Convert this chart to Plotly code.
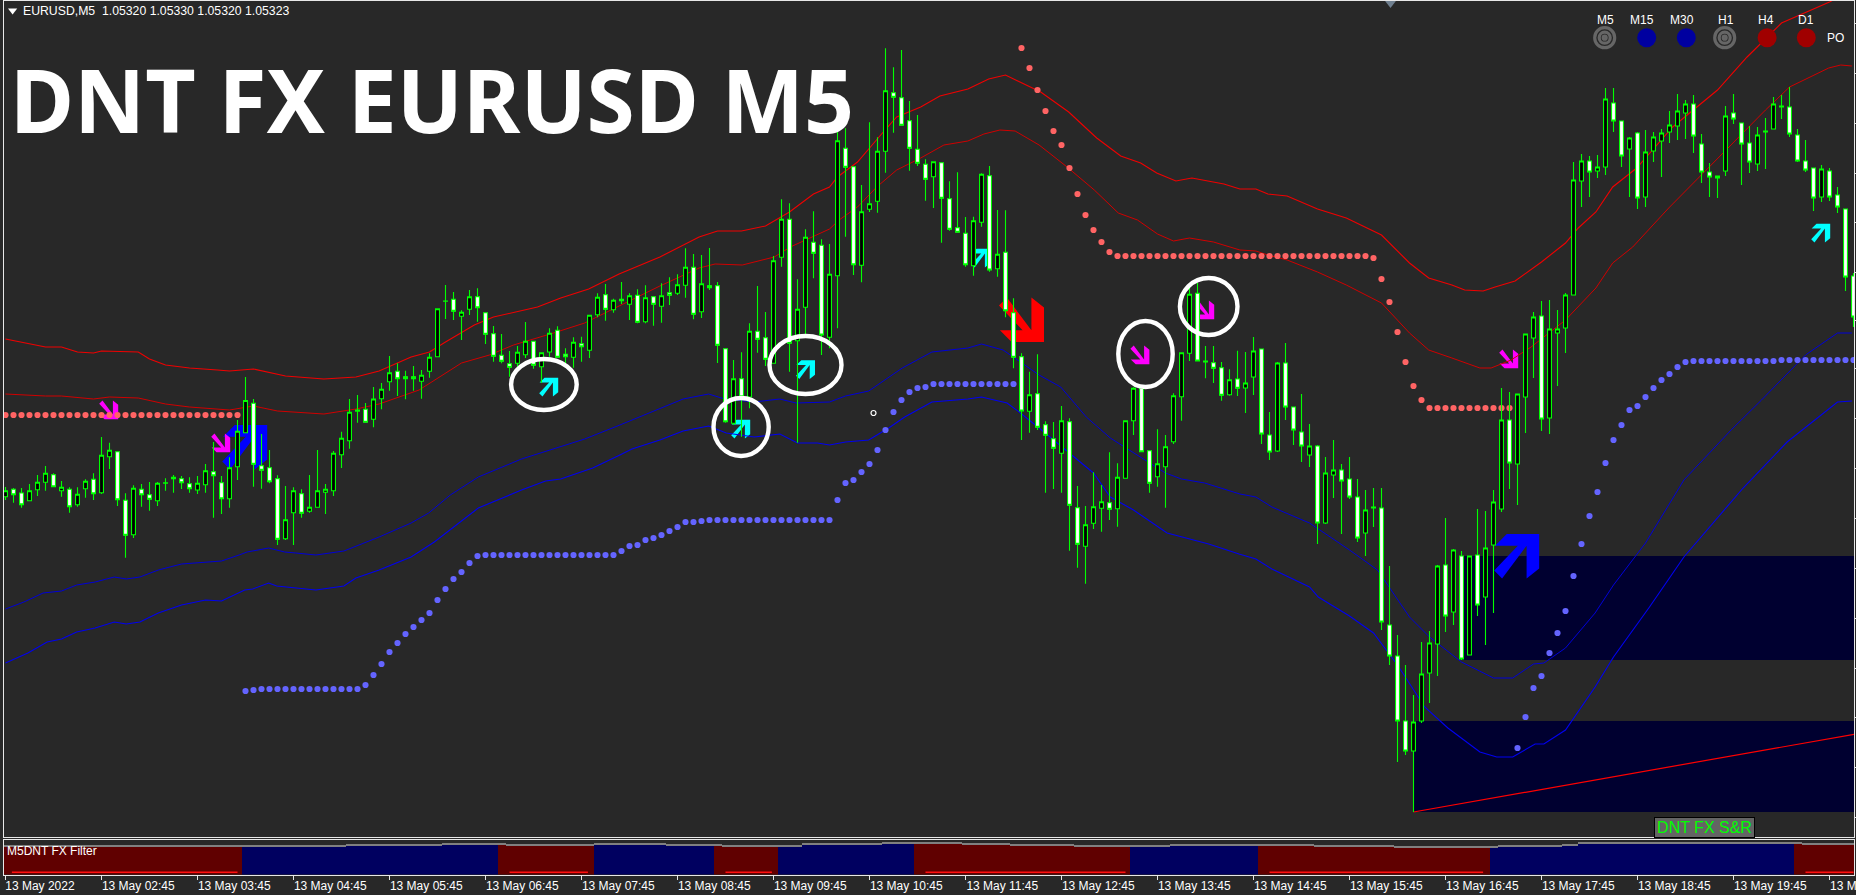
import plotly.graph_objects as go

W, H = 1856, 895
PLOT_L, PLOT_R = 4, 1854
MAIN_T, MAIN_B = 1, 837
SUB_T, SUB_B = 840, 874.5
BAR0_PX, BAR_PX = 5.5, 8.0
BG = "#282828"
P0, TICK = 1.0600, 0.00002   # chart points -> price

# Candles: levels in chart points counted down from the top of the window
body_top = [
 490.7,489.3,493,490.7,482.3,473.3,474.7,487.3,489.3,494.3,
 481.3,479.3,455.3,450.3,451.7,500.3,488.3,489.3,494.7,483.3,
 482.7,477.3,478.7,483.7,483.3,470.7,471.7,482.7,467.7,431.3,
 400.5,403.3,465.7,467.7,478.7,519.7,490.7,493.7,507.3,490.7,
 489.3,453.3,438.3,412.3,410,409.3,399,389.3,372.7,371.3,
 376.7,376.7,375.3,357.3,308.7,301,299.3,312.3,296.7,296.7,
 312.7,333.7,355.3,363.7,352.3,341.3,341.3,352.7,333.3,330.3,
 354.3,342.3,343.7,315.3,297.3,294.7,300.3,299.3,295.7,295.3,
 297.7,296.7,295.7,292.7,284.7,267.3,267.3,283.7,285.7,285.7,
 348.7,378.7,378.7,331.3,331.3,337.7,260.7,219.3,219.3,309.3,
 237.3,242.3,245.3,274.3,140.7,148.3,166.7,211.7,203.7,151.3,
 90.7,92.7,97.7,120.7,149.3,164.3,161.7,162.7,198.7,227.7,
 233.3,220.7,174.3,175.7,254.3,252.3,312.7,356.7,394.7,393.7,
 424.7,438.7,420.7,421.7,507.7,524.7,506.7,501.7,502.7,477.3,
 420.7,388.3,388.3,450.7,463.7,446.7,395.7,352.7,294.3,293.3,
 361,362.7,367.7,379.7,379,383,351,349,435,363,
 363,407,432,446,446,473,470,470,479,497,
 510,507,508,625,656,721,722,674,643,566,
 565,550,556,556,555,548,502,420,420,394,
 334,317,316,329,329,295,180,161,161,167,
 99,103,121,138,133,152,137,133,125,111,
 104,104,144,172,176,116,113,123,143,135,
 131,104,106,107,135,161,168,169,171,195,209,276]
body_bot = [
 496.7,494.7,504.7,500.7,489.7,482.3,486.7,490.7,506.7,504.7,
 488.7,493.7,492.7,456.7,499.7,535.3,534.7,494.7,499.3,500.7,
 483.3,478.7,482.7,488.7,490,484.7,475.7,498.7,498.7,466.7,
 432.7,464.3,470.3,481.7,539.3,538.7,512.7,513.3,511.3,507.3,
 492.3,490.7,454.7,440.7,411.3,422.3,419.3,398.7,381.7,378.7,
 378.7,378.7,381.3,371.3,356.7,301.3,311.3,316.3,309.3,307.7,
 334.3,356.3,361.3,367.3,363.3,354.7,365.3,366.7,352,357.3,
 356.7,357.3,346.7,350.3,314.7,309.3,309.7,300.7,304.3,322.3,
 321.7,304.3,306.3,295.3,293.3,285.3,314.3,311.7,287.7,345.3,
 421.7,423.3,396.7,397,339.3,359.3,363.3,257.3,343.3,340.7,
 307.3,253.3,335,337.3,275.7,167.3,264.7,265.3,209.3,201.3,
 151.3,97.3,125.3,148.3,163.3,179.3,176.7,198.3,229.3,232.3,
 264.7,265.7,222.3,270,268.7,310.7,357.3,411,411.3,427.3,
 435.3,448.3,453.3,505.3,544.3,546.3,523.3,508.3,509.3,508.7,
 478.3,420.7,451.7,483.3,476.7,466.7,441.7,396.7,353.3,361,
 362,368.3,395.3,394.7,388.3,388,377,434,452,451,
 407,430,446,455,523,523,475,481,497,538,
 533,508,622,656,721,751,751,721,673,644,
 616,612,659,655,605,597,545,509,463,464,
 397,338,419,418,333,328,295,181,172,171,
 167,121,156,149,198,197,151,141,132,126,
 113,136,172,177,178,171,119,144,162,164,
 132,129,107,134,161,170,198,197,197,207,277,317]
wick_top = [
 487,488,488,484,475,466,473.3,481,487.3,487.3,
 479.3,473.3,437,442.7,451.3,493.3,485.3,484,482,482,
 478.3,475,476,477.3,476,464,442,476,457.3,420,
 377,399,434,450,475.3,486,487.3,489.3,475,450,
 484,451,431.7,399,395,403,387,383,356,363.3,
 370.7,366,370,353.3,308.7,285,292,310.3,290,288.3,
 312.7,326,334,351,346,322,341.3,352.7,328.3,326.3,
 348.3,337.3,336.7,315.3,293.3,284,298.7,282,293.3,289.3,
 285.3,296,283.3,277.3,274.3,248.3,254,255,248,282,
 348.3,360,352.3,323.3,286,312,256,199.3,203.3,279.3,
 229.3,211.3,239.3,244,130,128.3,166.7,185,122.3,137.3,
 48.3,67.3,50,101,115,159.3,161.7,162.7,181.3,172.3,
 217,216.7,173.3,166,210,210.3,298.3,353.3,371.7,354.3,
 421.3,422,406,418.3,486,506,472.3,485,452.3,463.3,
 420.7,387.3,388.3,450.7,429.3,435,393.3,352.7,286,283,
 346,346,362,369.3,350.7,352,337,349,412,362,
 343,407,394,424,445,457,440,464,457,479,
 490,488,488,566,635,665,695,642,631,565,
 518,549,551,556,509,511,490,388,392,394,
 334,312,301,300,310,293,162,154,156,155,
 88,88,121,137,132,130,132,129,111,94,
 100,95,134,163,176,106,94,123,126,127,
 118,97,95,87,129,140,168,165,168,187,209,273]
wick_bot = [
 500,502.7,507.7,500.7,496,490.7,486.7,496.7,512.7,506.7,
 497.7,500,494,469,506,557.7,538,506.7,510.7,506,
 490.7,492.7,489,492.7,494,492.7,517.7,514,507.7,480,
 433,486.7,488.7,483.3,545,540,545,517.7,512.7,507.3,
 514,496,468,448.7,422.7,422.7,427.3,409.3,390.7,396,
 399.3,390.7,398.7,377.7,356.7,319,320,340,315,321.7,
 344,361.7,363.3,376.7,366.7,358,368.7,382.7,356.7,357.3,
 366.7,367.7,361.7,358,317.3,320.7,312.7,304,320,323.3,
 323.3,325.7,322.7,305,295,297.7,319.3,318,290,363,
 422.7,425,436.7,408.3,352.7,366,363.3,266.7,371.7,442.7,
 335,278.3,355,348.3,328.3,236.7,275,282.3,212,212.7,
 172.7,132.7,125.3,170.7,166,200.7,208,242.7,230.7,232.3,
 266.7,275.7,226.7,271.7,276.7,317.3,368.3,440,432.7,430,
 492.7,489,492.7,550.7,567.7,583.7,529,531.7,520,526.7,
 478.3,435,451.7,492.7,486.7,507.7,444,420.7,361,361,
 378.3,383,400.7,395.7,396,413,395,444,460,452,
 420,445,462,467,544,524,498,534,499,542,
 556,527,630,665,762,755,812,723,703,676,
 632,625,660,655,616,645,613,512,489,505,
 433,378,431,434,386,353,295,207,197,178,
 175,132,167,197,209,207,162,177,143,140,
 139,153,183,197,198,176,124,185,173,171,
 169,129,119,137,162,172,211,202,201,213,291,327]
white_bars = [1,2,6,8,11,14,15,17,18,21,22,23,26,27,31,32,33,34,37,45,49,50,51,56,59,60,61,62,63,66,69,
 70,72,75,77,79,81,83,86,88,89,90,92,94,95,98,101,102,105,106,111,112,113,114,115,117,118,119,120,123,
 125,126,127,129,130,131,133,134,138,142,143,149,151,152,154,157,158,160,161,162,164,167,168,169,172,
 173,174,175,180,182,184,188,192,198,201,202,204,211,212,213,216,217,218,220,222,223,224,225,226,228,
 229,230,231]

# Envelope lines: bar position and level
red_outer_bar = [0,5,7,9,11,12,16.6,18,20,23,26.5,28,31,35,39.8,43.8,46.7,50.7,53,55,58.6,61,66.5,69.4,72.9,76.7,
 81.8,86.7,89,92,95,98,101,103,104,106.5,109.4,111.4,114.4,116.8,120.3,122.9,125,129.4,132.9,136.4,139.4,141.9,143.9,146.3,148.3,152.3,154.3,
 156.3,157.8,160.2,164,167.6,172,175.5,177.9,180.8,182.4,184.7,186.2,188.7,192,195,196.6,198.8,200.9,203.9,208.4,214,217.7,222,228,231.3]
red_outer_lvl = [339,347,347,352,353,351,352,359,365,368,370,371,369,376,379,377,371,357,352,342,325,317,307,298,289,274,
 257,237,231,231,226,212,194,187,177,162,135,117,107,96,89,79,75,92,112,138,156,163,173,181,178,184,189,
 189,194,196,209,218,235,263,278,285,290,291,287,281,262,243,228,212,187,168,127,90,57,23,2,-12]
red_inner_bar = [0,5,7,11,13,16.6,20,23,28,31,34,39.8,43.8,46.7,51.7,53.6,57,60.5,63.5,68.5,72.4,76.7,
 81.8,86.7,88.7,92.1,96.1,98.1,103,104.2,106.5,108.9,111.4,114.4,117.3,120.3,122.3,124.3,126.2,129.2,132.7,136.1,139.1,141.5,144,146,148,151,154.3,
 156.3,157.8,160.2,164,167.6,172,175.5,177.9,180.8,184.3,185.7,188.2,190.7,195,198.8,200.9,203.4,207.9,214.2,220,223,227.9,229.4,230.8]
red_inner_lvl = [394,396,396,399,397,398,404,407,410,406,411,414,409,404,390,380,363,355,345,333,323,306,
 286,268,264,265,257,247,229,220,207,187,170,158,145,141,134,130,131,145,167,190,213,220,234,241,238,242,250,
 251,255,260,272,285,303,333,350,358,368,368,360,347,320,288,263,247,208,157,110,87,68,65,66]
blue_upper_bar = [0,2.3,4.7,7,8.9,11.2,13.6,15.1,16.8,19.1,22,27,29.2,30.2,32.9,34.9,36.3,38.8,42.3,46.7,50.7,52.9,55.6,59.1,64.5,68.4,72.4,76.8,
 79.8,84.7,87.9,89.9,93.6,96.8,98.8,101.5,103,105,107.9,112.1,115.8,120.3,122,124.7,126.7,129.2,131.9,135.1,138.1,141,145,147,149.9,154.3,
 156.3,158.3,163,168,171.5,175.5,178,182,186,188.4,191,192.3,195,198.7,201,205,209.8,215.7,219.5,225,229,230.8]
blue_upper_lvl = [609,602,593,591,585,582,577,579,577,570,564,561,555,552,548,552,553,555,551,537,523,513,495,477,459,449,439,425,
 415,399,394,399,402,399,403,402,402,396,391,368,352,348,344,350,361,375,387,417,438,453,473,479,483,494,
 497,507,523,550,570,617,637,662,678,678,664,663,648,613,585,543,480,430,400,355,333,333]
blue_lower_bar = [0,2.8,5.2,7,8.9,11.2,13.6,15.1,16.8,19.1,22,25,27,29.9,30.9,32.9,33.9,37.3,38.8,42.3,43.8,46.7,50.7,53.6,59.1,64.5,67.5,69.4,73.4,76.8,
 78.3,81.8,84.7,87.9,90.1,93.6,96.8,99,101.5,103,105,107.9,110.4,112.4,115.8,120.3,122,125.2,126.7,129.2,133.2,136,138.1,141,145.2,147,150.4,154.2,
 156.3,158.3,163,164.1,168,171,174,177.4,180.3,184.3,186.4,188.4,191.2,192.3,195,198.7,201,205.5,209.8,217.2,222.7,229,230.8]
blue_lower_lvl = [663,653,642,639,632,628,622,624,622,613,605,600,601,590,589,583,586,589,590,586,578,570,557,542,508,490,481,479,468,455,
 449,440,431,426,433,437,434,443,443,445,442,440,428,417,402,399,397,403,412,428,455,473,497,510,533,537,544,554,
 559,569,587,597,616,633,665,707,728,752,757,757,744,744,730,687,657,607,557,488,442,402,401]

# Dotted stop lines (one level per bar, first bar given by the *_start name)
red_dots_1_start = 0
red_dots_1 = [415,415,415,415,415,415,415,415,415,415,415,415,415,415,415,415,415,415,415,415,415,415,415,415,415,415,415,415,415,415]
red_dots_2_start = 127
red_dots_2 = [48,68,90,111,131,145,168,194,215,230,242,252,
 256,256,256,256,256,256,256,256,256,256,256,256,256,256,256,256,256,256,256,256,256,256,256,256,256,256,256,256,256,256,256,256,
 258,279,302,332,362,386,400,408,408,408,408,408,408,408,408,408,408,408]
blue_dots_1_start = 30
blue_dots_1 = [691,690,689,689,689,689,689,689,689,689,689,689,689,689,689,685,675,664,652,643,634,627,620,613,600,589,579,572,563,556,
 555,555,555,555,555,555,555,555,555,555,555,555,555,555,555,555,555,551,546,545,540,538,535,531,527,522,522,521,
 520,520,520,520,520,520,520,520,520,520,520,520,520,520,520,520,500,483,480,472,464,450,430,412,400,392,388,387,
 384,384,384,384,384,384,384,384,384,384,384]
blue_dots_2_start = 189
blue_dots_2 = [748,717,688,676,653,633,611,576,544,516,492,463,440,425,410,406,397,388,380,374,367,362,
 361,361,361,361,361,361,361,361,361,361,361,360,360,360,360,360,360,360,360,360,360]

# Arrows: bar, level
cyan_arrow_bar = [67.9,91.9,100,121.9,226.9]
cyan_arrow_lvl = [387,429,369.5,258,233]
magenta_arrow_bar = [12.9,26.9,141.8,149.9,187.9]
magenta_arrow_lvl = [410,443,355,310,359]
blue_arrow_bar = [29.9,188.9]
blue_arrow_lvl = [447,556]
red_arrow_bar = [127]
red_arrow_lvl = [320]

# White hand-drawn ellipses
ring_bar_0 = [63.2,88.5,95.5,139.1,146.8]
ring_bar_1 = [71.4,95.4,104.5,145.9,154]
ring_lvl_0 = [359,398,336,321,278]
ring_lvl_1 = [410,456,394,387,335]

# Support / resistance zones and trend line
zone_bar_start = [182,176]
zone_lvl_top = [556,721]
zone_lvl_bot = [660,812]
trend_bar = [176,231.3]
trend_lvl = [812,734]

# Filter sub-window
filter_run_start = [0,30,62,74,89,97,114,141,157,186,224]
filter_run_state = ["sell","buy","sell","buy","sell","buy","sell","buy","sell","buy","sell"]
filter_level_start = [0,43,55,63,74,83,90,100,110,120,126,134,146,164,174,187,195,197,225]
filter_level = [29.8,30.2,31.5,30.2,31.5,30.5,30,31.5,32.5,31.5,30.5,29.5,30.5,29.8,28.8,30,31,32.5,31.5]
filter_mark_start = [0.8,63,90,115,158,225]
filter_mark_end = [29,72.8,95.8,140,184.7,231]
N_BARS = 232

time_tick_bars = [0,12,24,36,48,60,72,84,96,108,120,132,144,156,168,180,192,204,216,228]
time_tick_labels = ["13 May 2022","13 May 02:45","13 May 03:45","13 May 04:45","13 May 05:45","13 May 06:45",
 "13 May 07:45","13 May 08:45","13 May 09:45","13 May 10:45","13 May 11:45","13 May 12:45","13 May 13:45",
 "13 May 14:45","13 May 15:45","13 May 16:45","13 May 17:45","13 May 18:45","13 May 19:45","13 M"]
price_tick_lvl = [23,73,123,173,222,272,320,368,418,468,518,568,618,668,717,767,817]

panel_labels = ["M5","M15","M30","H1","H4","D1"]
panel_label_px = [1605,1642,1682,1726,1766,1806]
panel_bar = [199.9,205.15,210.1,214.9,220.2,225.1]
panel_state = ["target","blue","blue","target","red","red"]


def price(level):
    return P0 - level * TICK


def prices(levels):
    return [price(v) for v in levels]


def bar_of_px(px):
    return (px - BAR0_PX) / BAR_PX


def xp(px):
    return px / W


def yp(py):
    return 1 - py / H


white_set = set(white_bars)
bars = list(range(N_BARS))
opens = [price(body_top[i]) if i in white_set else price(body_bot[i]) for i in bars]
closes = [price(body_bot[i]) if i in white_set else price(body_top[i]) for i in bars]

fig = go.Figure()


def line(x, y, color, width=1.0):
    fig.add_trace(go.Scatter(x=x, y=prices(y), mode="lines", hoverinfo="skip", showlegend=False,
                             line=dict(color=color, width=width)))


line(red_outer_bar, red_outer_lvl, "#f00000", 1.1)
line(red_inner_bar, red_inner_lvl, "#d00000", 1.0)
line(blue_upper_bar, blue_upper_lvl, "#0000d8", 1.0)
line(blue_lower_bar, blue_lower_lvl, "#0000f0", 1.1)
line(trend_bar, trend_lvl, "#ff0000", 1.2)


def dots(start, levels, color):
    fig.add_trace(go.Scatter(x=[start + k for k in range(len(levels))], y=prices(levels), mode="markers",
                             hoverinfo="skip", showlegend=False, marker=dict(color=color, size=6.2, line=dict(width=0))))


dots(red_dots_1_start, red_dots_1, "#ff6464")
dots(red_dots_2_start, red_dots_2, "#ff6464")
dots(blue_dots_1_start, blue_dots_1, "#6464ff")
dots(blue_dots_2_start, blue_dots_2, "#6464ff")

# small cursor mark
fig.add_trace(go.Scatter(x=[108.5], y=[price(413)], mode="markers", hoverinfo="skip", showlegend=False,
                         marker=dict(symbol="circle-open", color="#ffffff", size=5, line=dict(width=1.2, color="#ffffff"))))

# top-right multi-timeframe panel
PANEL_LVL = 37.7
panel_colors = {"blue": "#0000a0", "red": "#a00000"}
for b, s in zip(panel_bar, panel_state):
    if s == "target":
        fig.add_trace(go.Scatter(x=[b, b, b], y=[price(PANEL_LVL)] * 3, mode="markers", hoverinfo="skip", showlegend=False,
                                 marker=dict(symbol="circle-open", size=[20, 11, 3], color="#808080",
                                             line=dict(width=3.2, color="#808080"))))
    else:
        fig.add_trace(go.Scatter(x=[b], y=[price(PANEL_LVL)], mode="markers", hoverinfo="skip", showlegend=False,
                                 marker=dict(size=19, color=panel_colors[s], line=dict(width=0))))

# chart-window triangles
fig.add_trace(go.Scatter(x=[bar_of_px(12.6)], y=[price(10.6)], mode="markers", hoverinfo="skip", showlegend=False,
                         marker=dict(symbol="triangle-down", size=8, color="#ffffff", line=dict(width=0))))
fig.add_trace(go.Scatter(x=[bar_of_px(1390.5)], y=[price(2.5)], mode="markers", hoverinfo="skip", showlegend=False,
                         cliponaxis=True,
                         marker=dict(symbol="triangle-down", size=11, color="#708090", line=dict(width=0))))

# Candles live on an overlay pair of axes so that they sit over the lines and dots
fig.add_trace(go.Candlestick(
    x=bars, open=opens, high=prices(wick_top), low=prices(wick_bot), close=closes,
    xaxis="x3", yaxis="y3", hoverinfo="skip", showlegend=False, whiskerwidth=0,
    increasing=dict(fillcolor="#000000", line=dict(color="#00ff00", width=1.1)),
    decreasing=dict(fillcolor="#ffffff", line=dict(color="#00ff00", width=1.1)),
))

# Filter sub-window
state_at = []
level_at = []
for i in bars:
    state_at.append([s for st, s in zip(filter_run_start, filter_run_state) if st <= i][-1])
    level_at.append([v for st, v in zip(filter_level_start, filter_level) if st <= i][-1])
fig.add_trace(go.Bar(x=bars, y=[v - 2 for v in level_at], width=1, xaxis="x2", yaxis="y2", hoverinfo="skip", showlegend=False,
                     marker=dict(color=["#600000" if s == "sell" else "#000060" for s in state_at], line=dict(width=0))))
fig.add_trace(go.Bar(x=bars, y=[2 for _ in bars], width=1, xaxis="x2", yaxis="y2", hoverinfo="skip", showlegend=False,
                     marker=dict(color="#808080", line=dict(width=0))))
mark_x, mark_y = [], []
for a, b in zip(filter_mark_start, filter_mark_end):
    mark_x += [a, b, None]
    mark_y += [2.2, 2.2, None]
fig.add_trace(go.Scatter(x=mark_x, y=mark_y, mode="lines", xaxis="x2", yaxis="y2", hoverinfo="skip", showlegend=False,
                         line=dict(color="#ff1010", width=1.5)))

# Shapes
ARROW = [(-0.44, 0.98), (1, 0.98), (1, -0.55), (0.44, -1), (0.44, 0.46), (-0.65, -1), (-1, -0.65), (0.05, 0.46), (-0.96, 0.46)]


def arrow_path(half, down):
    s = -1 if down else 1
    pts = [(px * half, s * py * half) for px, py in ARROW]
    return "M " + " L ".join(f"{a:.1f},{b:.1f}" for a, b in pts) + " Z"


shapes = []
x_end = bar_of_px(PLOT_R)
for b0, t, bt in zip(zone_bar_start, zone_lvl_top, zone_lvl_bot):
    shapes.append(dict(type="rect", xref="x", yref="y", x0=b0, x1=x_end, y0=price(t), y1=price(bt),
                       fillcolor="#000030", line=dict(width=0), layer="below"))


def add_arrows(bar_list, lvl_list, color, half, down):
    for b, v in zip(bar_list, lvl_list):
        shapes.append(dict(type="path", xref="x", yref="y", xsizemode="pixel", ysizemode="pixel",
                           xanchor=b, yanchor=price(v), path=arrow_path(half, down),
                           fillcolor=color, line=dict(width=0), layer="below"))


add_arrows(blue_arrow_bar, blue_arrow_lvl, "#0000ff", 22.5, False)
add_arrows(red_arrow_bar, red_arrow_lvl, "#ff0000", 22.5, True)
add_arrows(cyan_arrow_bar, cyan_arrow_lvl, "#00ffff", 9.5, False)
add_arrows(magenta_arrow_bar, magenta_arrow_lvl, "#ff00ff", 9.5, True)
for a, b, t, bt in zip(ring_bar_0, ring_bar_1, ring_lvl_0, ring_lvl_1):
    shapes.append(dict(type="circle", xref="x", yref="y", x0=a, x1=b, y0=price(t), y1=price(bt),
                       line=dict(color="#ffffff", width=4.4), layer="above"))

# Text
TXT = "Liberation Sans"
annotations = [
    dict(text="EURUSD,M5  1.05320 1.05330 1.05320 1.05323", x=xp(21), y=yp(11), xanchor="left", yanchor="middle",
         font=dict(family=TXT, size=12.25, color="#ffffff")),
    dict(text="DNT FX EURUSD M5", x=xp(8), y=yp(99), xanchor="left", yanchor="middle",
         font=dict(family="Noto Sans", size=87.5, color="#ffffff", weight=700)),
    dict(text="M5DNT FX Filter", x=xp(5), y=yp(851), xanchor="left", yanchor="middle",
         font=dict(family=TXT, size=12, color="#ffffff")),
    dict(text="PO", x=xp(1835), y=yp(37.7), xanchor="center", yanchor="middle",
         font=dict(family=TXT, size=12, color="#ffffff")),
    dict(text="DNT FX S&R", x=xp(1704), y=yp(827), xanchor="center", yanchor="middle", width=97, height=17,
         bgcolor="#646464", bordercolor="#000000", borderwidth=1,
         font=dict(family=TXT, size=16, color="#00ff00")),
    dict(text=time_tick_labels[-1], x=xp(5.5 + 8 * time_tick_bars[-1] - 2), y=yp(886), xanchor="left", yanchor="middle",
         font=dict(family=TXT, size=12, color="#ffffff")),
]
for lab, px in zip(panel_labels, panel_label_px):
    annotations.append(dict(text=lab, x=xp(px), y=yp(20), xanchor="center", yanchor="middle",
                            font=dict(family=TXT, size=12, color="#ffffff")))
for a in annotations:
    a.update(xref="paper", yref="paper", showarrow=False)

x_range = [bar_of_px(PLOT_L), bar_of_px(PLOT_R)]
y_range = [price(MAIN_B), price(MAIN_T)]
dom_x = [xp(PLOT_L), xp(PLOT_R)]

fig.update_layout(
    width=W, height=H, margin=dict(l=0, r=0, t=0, b=0), autosize=False,
    paper_bgcolor=BG, plot_bgcolor=BG, showlegend=False, barmode="stack", bargap=0, boxgap=0.3,
    shapes=shapes, annotations=annotations, hovermode=False,
    xaxis=dict(domain=dom_x, range=x_range, anchor="y", showgrid=False, zeroline=False, showticklabels=False, ticks="",
               showline=True, mirror=True, linecolor="#e8e8e8", linewidth=1),
    yaxis=dict(domain=[yp(MAIN_B), yp(MAIN_T)], range=y_range, anchor="x", side="right", showgrid=False, zeroline=False,
               showticklabels=False, tickmode="array", tickvals=prices(price_tick_lvl), ticks="outside", ticklen=2,
               tickcolor="#e8e8e8", showline=True, mirror=True, linecolor="#e8e8e8", linewidth=1),
    xaxis3=dict(overlaying="x", range=x_range, anchor="y3", visible=False, rangeslider=dict(visible=False)),
    yaxis3=dict(overlaying="y", range=y_range, anchor="x3", visible=False),
    xaxis2=dict(domain=dom_x, range=x_range, anchor="y2", showgrid=False, zeroline=False, showline=True, mirror=True,
                linecolor="#e8e8e8", linewidth=1, tickmode="array",
                tickvals=[b + (4.3 if k == 0 else 4.6) for k, b in enumerate(time_tick_bars[:-1])],
                ticktext=time_tick_labels[:-1], ticks="", ticklabelstandoff=0,
                tickangle=0, tickfont=dict(family=TXT, size=12, color="#ffffff"),
                minor=dict(tickmode="array", tickvals=time_tick_bars, ticks="outside", ticklen=4, tickcolor="#e8e8e8", tickwidth=1, showgrid=False)),
    yaxis2=dict(domain=[yp(SUB_B), yp(SUB_T)], range=[0, SUB_B - SUB_T], anchor="x2", showgrid=False, zeroline=False,
                showticklabels=False, ticks="", showline=True, mirror=True, linecolor="#e8e8e8", linewidth=1),
)

fig.write_html("out.html", config=dict(displayModeBar=False, staticPlot=True),
               post_script="document.body.style.margin='0';document.documentElement.style.overflow='hidden';")
